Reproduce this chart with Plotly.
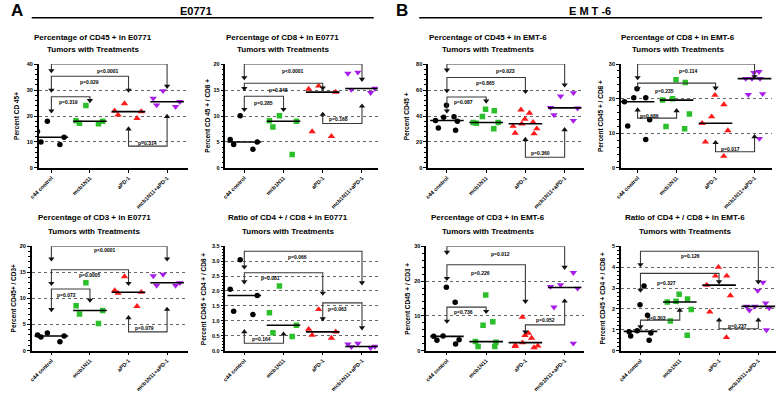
import plotly.graph_objects as go

W, H = 778, 395
CATS = ["c44 control", "mcb1N11", "aPD-1", "mcb1N11+aPD-1"]

# ---- data (values per group: c44 control, mcb1N11, aPD-1, mcb1N11+aPD-1) ----
CD45_E0771 = [[18, 14, 9, 10, 11.8],
              [24, 18.2, 18, 17, 17.2],
              [24.8, 22, 21.7, 19.1, 20.4],
              [29.7, 25.5, 26.8, 23.6, 24.2]]
CD8_E0771 = [[10.06, 5.5, 3.6, 4.5, 5.0],
             [10.06, 9.0, 9.1, 7.9, 2.6],
             [15.2, 15.8, 14.6, 6.1, 7.0],
             [18.4, 18.2, 15.3, 14.5, 15.1]]
CD45_EMT6 = [[48.3, 39.5, 39, 36.5, 36, 29, 30.7],
             [45.3, 44, 39.7, 35, 34.5, 35, 30.2],
             [44.8, 42.3, 37.7, 35.2, 34, 32.2, 30.2, 26.4, 26.9],
             [55.3, 57.9, 46.5, 46, 40.8, 36.5]]
CD8_EMT6 = [[22.9, 20.3, 20.3, 19.1, 13.9, 12.1, 8.2],
            [25.5, 24.7, 19.6, 20, 15.6, 11.3, 12],
            [21, 18.3, 14.8, 12.9, 10.8, 7.5, 3.4],
            [27.5, 27.8, 25.8, 25.8, 25.8, 21.4, 21.2, 8.5]]
CD3_E0771 = [[3.4, 3.0, 2.8, 2.6, 1.7],
             [13, 8.6, 7.7, 7, 5.2],
             [14.2, 11.2, 11, 11.5, 8.5],
             [14.6, 14.3, 13, 12.5, 12.5]]
RATIO_E0771 = [[3.05, 2.06, 1.85, 1.32, 1.21],
               [2.17, 1.27, 0.85, 0.6, 0.47],
               [1.38, 0.72, 0.63, 0.52, 0.42],
               [0.24, 0.13, 0.09, 0.14, 0.22]]
CD3_EMT6 = [[18.2, 13.9, 4.2, 4.1, 3.1, 3.0, 1.9],
            [16, 8.3, 7.3, 2.4, 2.6, 1.2, 1.2],
            [9.6, 4.4, 5, 3.6, 2.3, 1.2, 0.9, 1.4, 1.6],
            [22.4, 18.9, 17.9, 18.4, 12.5, 2.1]]
RATIO_EMT6 = [[3.1, 2.2, 1.7, 0.95, 0.85, 0.7, 0.5, 0.9],
              [2.7, 2.47, 2.33, 2.36, 1.97, 1.42, 0.74],
              [4.0, 3.58, 3.58, 3.14, 2.64, 1.86, 0.63],
              [3.27, 2.88, 2.28, 2.12, 2.12, 2.04, 1.93, 0.99]]

PANEL_DATA = [CD45_E0771, CD8_E0771, CD45_EMT6, CD8_EMT6,
              CD3_E0771, RATIO_E0771, CD3_EMT6, RATIO_EMT6]

TITLES = [("Percentage of CD45 + in E0771", "Tumors with Treatments"),
          ("Percentage of CD8 + in E0771", "Tumors with Treatments"),
          ("Percentage of CD45 + in EMT-6", "Tumors with Treatments"),
          ("Percentage of CD8 + in EMT-6", "Tumors with Treatments"),
          ("Percentage of CD3 + in E0771", "Tumors with Treatments"),
          ("Ratio of CD4 + / CD8 + in E0771", "Tumors with Treatments"),
          ("Percentage of CD3 + in EMT-6", "Tumors with Treatments"),
          ("Ratio of CD4 + / CD8 + in EMT-6", "Tumors with Treatments")]
YTITLES = ["Percent CD 45+", "Percent CD 45 + / CD8 +", "Percent CD45 +",
           "Percent CD45 + / CD8 +", "Percent CD45+ / CD3+",
           "Percent CD45 + CD4 + / CD8 +", "Percent CD45 + / CD3 +",
           "Percent CD45 + CD4 + / CD8 +"]
YMAX = [40, 20, 80, 30, 20, 3.5, 30, 5]
YDTICK = [10, 5, 20, 10, 5, 0.5, 10, 1]

# comparison brackets: (group a, end a, group b, end b, bar level, label, label x, label y)
BRACKETS = [
    [(0, 37.5, 3, 31.5, 40, "p<0.0001", 1.46, 37.3), (0, 30, 2, 30, 35.3, "p=0.029", 1.0, 33.1),
     (0, 22, 1, 26, 27.4, "p=0.319", 0.44, 25.2), (2, 15, 3, 19.8, 8.4, "p=0.314", 2.49, 9.6)],
    [(0, 17.4, 3, 17.1, 20, "p<0.0001", 1.23, 18.7), (0, 15.3, 2, 15.4, 16.3, "p=0.348", 0.86, 15.1),
     (0, 11.3, 1, 11.3, 13.8, "p=0.285", 0.48, 12.5), (2, 10.3, 3, 11.9, 8.55, "p=0.168", 2.39, 9.4)],
    [(0, 75.5, 3, 64, 80, "p=0.023", 1.49, 74.7), (0, 59.6, 2, 59, 69.7, "p=0.865", 0.98, 65.4),
     (0, 44, 1, 51.6, 54.6, "p=0.087", 0.43, 50.8), (2, 21.9, 3, 29.4, 8.3, "p=0.360", 2.39, 11.3)],
    [(0, 26.1, 3, 26.4, 30, "p=0.114", 1.3, 28), (0, 22.9, 2, 23.1, 24.5, "p=0.235", 0.69, 22.2),
     (0, 16.7, 1, 16.5, 14.4, "p=0.686", 0.31, 15.1), (2, 7.3, 3, 9, 4.7, "p=0.017", 2.39, 5.5)],
    [(0, 17.6, 3, 17.6, 20, "p<0.0001", 1.38, 19.2), (0, 12.9, 2, 12.9, 15.5, "p=0.0005", 1.0, 14.5),
     (0, 7.9, 1, 9.7, 11.8, "p=0.072", 0.38, 10.6), (2, 6.3, 3, 7.9, 3.6, "p=0.079", 2.41, 4.4)],
    [(0, 2.81, 3, 2.28, 3.33, "p=0.066", 1.36, 3.14), (0, 2.31, 2, 1.93, 2.61, "p=0.081", 0.68, 2.42),
     (0, 0.63, 1, 0.55, 0.25, "p=0.164", 0.43, 0.39), (2, 1.07, 3, 0.77, 1.6, "p=0.063", 2.37, 1.38)],
    [(0, 28.3, 3, 24, 30, "p=0.012", 1.36, 27.8), (0, 20.8, 2, 14.2, 24.7, "p=0.226", 0.86, 22.2),
     (0, 8.5, 1, 11.3, 12.5, "p=0.736", 0.43, 11.0), (2, 5.4, 3, 14.2, 7.4, "p=0.052", 2.52, 8.7)],
    [(0, 4.12, 3, 3.3, 4.76, "p=0.126", 1.28, 4.51), (0, 2.9, 2, 3.3, 3.7, "p=0.327", 0.65, 3.25),
     (0, 1.15, 1, 1.93, 1.46, "p=0.303", 0.4, 1.54), (2, 1.46, 3, 1.46, 1.05, "p=0.237", 2.47, 1.18)],
]

# ---- layout geometry (pixels) ----
XDOM = [(30, 181), (219, 373), (424, 582), (619, 772),
        (23, 181), (219, 373), (422, 582), (619, 776)]
XRANGE = [(-0.33, 3.54), (-0.48, 3.4), (-0.48, 3.5), (-0.43, 3.45),
          (-0.51, 3.54), (-0.48, 3.4), (-0.53, 3.5), (-0.5, 3.45)]
YDOM = [(62, 167.5)] * 4 + [(247, 353)] * 4
TITLE_X = [85, 277, 485, 677, 86, 282, 485, 684]
TITLE_Y = [(35, 47)] * 4 + [(218, 232)] * 4
YTITLE_X = [7, 200, 402, 598, 5, 197, 403, 600]

COLORS = ["#000000", "#2bbf2b", "#ff1a1a", "#a61ee8"]
SYMBOLS = ["circle", "square", "triangle-up", "triangle-down"]
SIZES = [5.5, 5.5, 6.5, 6.5]
FONT = "Liberation Sans, Arial, sans-serif"


def px(x):
    return x / W


def py(y):
    return 1 - y / H


def paper_text(x, y, text, size, angle=0):
    return dict(x=px(x), y=py(y), xref="paper", yref="paper", text=text,
                showarrow=False, xanchor="center", yanchor="middle", textangle=angle,
                font=dict(size=size, family=FONT, color="black", weight="bold"))


fig = go.Figure()
annotations = []
shapes = []

for p in range(8):
    n = p + 1
    xa = "x" if n == 1 else f"x{n}"
    ya = "y" if n == 1 else f"y{n}"
    groups = PANEL_DATA[p]
    for g, vals in enumerate(groups):
        fig.add_trace(go.Box(
            x=[g] * len(vals), y=vals, xaxis=xa, yaxis=ya,
            boxpoints="all", jitter=1.0, pointpos=0, width=0.85,
            fillcolor="rgba(0,0,0,0)", line=dict(width=0, color="rgba(0,0,0,0)"),
            whiskerwidth=0,
            marker=dict(symbol=SYMBOLS[g], color=COLORS[g], size=SIZES[g]),
            showlegend=False, hoverinfo="skip"))
    medians = []
    for vals in groups:
        s = sorted(vals)
        m = len(s)
        medians.append(s[m // 2] if m % 2 else (s[m // 2 - 1] + s[m // 2]) / 2)
    fig.add_trace(go.Scatter(
        x=list(range(4)), y=medians, xaxis=xa, yaxis=ya, mode="markers",
        marker=dict(symbol="line-ew", size=24, line=dict(width=1.6, color="black")),
        showlegend=False, hoverinfo="skip"))
    for (ga, ea, gb, eb, bar, lab, lx, ly) in BRACKETS[p]:
        fig.add_trace(go.Scatter(
            x=[ga, ga, gb, gb], y=[ea, bar, bar, eb], xaxis=xa, yaxis=ya,
            mode="lines", line=dict(color="#3a3a3a", width=1.1),
            showlegend=False, hoverinfo="skip"))
        fig.add_trace(go.Scatter(
            x=[ga, gb], y=[ea, eb], xaxis=xa, yaxis=ya, mode="markers",
            marker=dict(symbol=["triangle-down" if bar > ea else "triangle-up",
                                "triangle-down" if bar > eb else "triangle-up"],
                        color="#111", size=5.5),
            showlegend=False, hoverinfo="skip"))
        annotations.append(dict(x=lx, y=ly, xref=xa, yref=ya, text=lab, showarrow=False,
                                xanchor="center", yanchor="middle",
                                font=dict(size=5, family=FONT, color="black", weight="bold")))

    axis_x = dict(domain=[px(XDOM[p][0]), px(XDOM[p][1])], range=list(XRANGE[p]),
                  tickvals=list(range(4)), ticktext=CATS, tickangle=-45,
                  showline=True, linecolor="black", linewidth=1.5, ticks="outside",
                  ticklen=3, tickcolor="black", showgrid=False, zeroline=False,
                  anchor=ya, tickfont=dict(size=5.5, family=FONT, color="black", weight="bold"))
    axis_y = dict(domain=[py(YDOM[p][1]), py(YDOM[p][0])], range=[0, YMAX[p]],
                  dtick=YDTICK[p], tick0=0, showline=True, linecolor="black", linewidth=1.5,
                  ticks="outside", ticklen=3, tickcolor="black",
                  showgrid=True, gridcolor="#666", griddash="dot", gridwidth=1,
                  zeroline=False, anchor=xa,
                  tickformat=".1f" if YDTICK[p] < 1 else "d",
                  minor=dict(ticks="outside", ticklen=2, tickcolor="black",
                             dtick=YDTICK[p] / 5, showgrid=False),
                  tickfont=dict(size=5.5, family=FONT, color="black", weight="bold"))
    fig.update_layout(**{("xaxis" if n == 1 else f"xaxis{n}"): axis_x,
                         ("yaxis" if n == 1 else f"yaxis{n}"): axis_y})

    t1, t2 = TITLES[p]
    for t, yy in zip((t1, t2), TITLE_Y[p]):
        annotations.append(paper_text(TITLE_X[p], yy, t, 8))
    annotations.append(paper_text(YTITLE_X[p], (YDOM[p][0] + YDOM[p][1]) / 2,
                                  YTITLES[p], 6.5, angle=-90))

# headers
for txt, x, size in [("A", 8, 17), ("E0771", 189, 11), ("B", 398, 17), ("E M T -6", 588, 11)]:
    annotations.append(paper_text(x, 8, txt, size))
for x0, x1 in [(23, 369), (415, 762)]:
    shapes.append(dict(type="line", xref="paper", yref="paper", x0=px(x0), x1=px(x1),
                       y0=py(15), y1=py(15), line=dict(color="black", width=1.5)))

fig.update_layout(width=W, height=H, margin=dict(l=0, r=0, t=0, b=0),
                  paper_bgcolor="white", plot_bgcolor="white", showlegend=False,
                  annotations=annotations, shapes=shapes, hovermode=False,
                  boxmode="overlay")
fig.write_html("out.html", config={"displayModeBar": False},
               post_script="document.body.style.margin='0';document.body.style.overflow='hidden';")
